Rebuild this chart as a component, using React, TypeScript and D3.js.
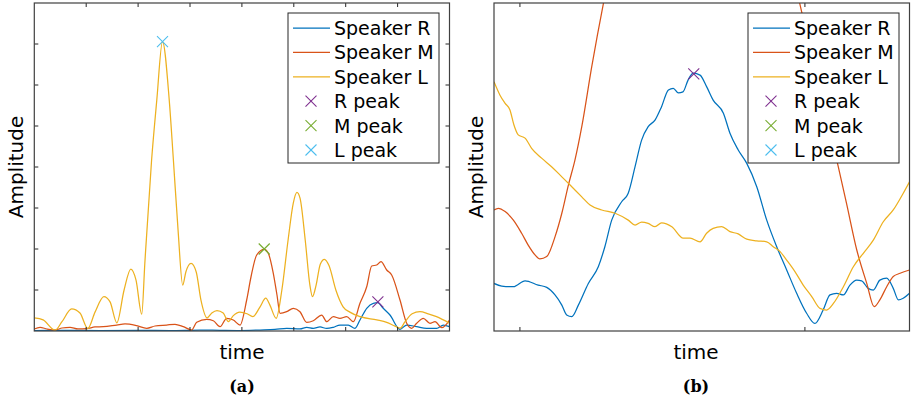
import * as d3 from 'd3'

// ---- panel (a): time in ticks 0..8, amplitude 0..8 ----
const leftSpeakerR: [number, number][] = [
  [0, 0.012], [0.495, 0.017], [1.266, 0.012], [2.037, 0.017], [2.614, 0.012], [3.192, 0.024], [3.578, 0.017],
  [3.964, 0.012], [4.349, 0.024], [4.638, 0.037], [4.863, 0.066], [5.119, 0.049], [5.249, 0.09], [5.376, 0.066],
  [5.505, 0.098], [5.634, 0.061], [5.761, 0.09], [5.89, 0.146], [6.05, 0.146], [6.179, 0.066], [6.275, 0.268],
  [6.405, 0.554], [6.532, 0.676], [6.617, 0.69], [6.724, 0.554], [6.853, 0.39], [7.046, 0.041], [7.175, 0.146],
  [7.368, 0.105], [7.561, 0.066], [7.753, 0.066], [7.881, 0.146], [8.0, 0.105],
]
const leftSpeakerM: [number, number][] = [
  [0, 0.049], [0.11, 0.09], [0.245, 0.049], [0.4, 0.024], [0.534, 0.073], [0.688, 0.09], [0.842, 0.049],
  [1.01, 0.056], [1.169, 0.098], [1.329, 0.105], [1.588, 0.146], [1.748, 0.171], [1.973, 0.129], [2.166, 0.066],
  [2.326, 0.122], [2.551, 0.146], [2.711, 0.163], [2.871, 0.105], [3.033, 0.024], [3.129, 0.212], [3.322, 0.285],
  [3.449, 0.251], [3.578, 0.105], [3.707, 0.31], [3.834, 0.268], [3.964, 0.146], [4.092, 0.756], [4.175, 1.317],
  [4.285, 1.854], [4.432, 1.993], [4.509, 1.895], [4.605, 1.407], [4.676, 0.878], [4.734, 0.432], [4.863, 0.471],
  [4.99, 0.554], [5.119, 0.471], [5.249, 0.212], [5.376, 0.251], [5.538, 0.39], [5.634, 0.227], [5.761, 0.349],
  [5.89, 0.31], [6.019, 0.349], [6.146, 0.227], [6.275, 0.676], [6.405, 1.08], [6.501, 1.585], [6.597, 1.61],
  [6.68, 1.69], [6.79, 1.488], [6.886, 1.366], [7.046, 0.756], [7.175, 0.188], [7.272, 0.066], [7.368, 0.188],
  [7.495, 0.31], [7.624, 0.188], [7.721, 0.227], [7.85, 0.08], [8.0, 0.268],
]
const leftSpeakerL: [number, number][] = [
  [0, 0.32], [0.17, 0.27], [0.4, 0.02], [0.53, 0.22], [0.72, 0.54], [0.88, 0.44], [1.03, 0.06], [1.17, 0.46],
  [1.34, 0.84], [1.46, 0.71], [1.59, 0.2], [1.73, 1.0], [1.86, 1.51], [1.96, 1.24], [2.07, 0.41], [2.13, 1.66],
  [2.26, 4.17], [2.36, 5.63], [2.47, 7.06], [2.6, 5.63], [2.68, 4.17], [2.77, 2.46], [2.86, 1.12], [2.92, 1.44],
  [3.02, 1.65], [3.12, 1.44], [3.21, 0.76], [3.33, 0.32], [3.42, 0.44], [3.52, 0.5], [3.64, 0.44], [3.74, 0.23],
  [3.83, 0.37], [3.96, 0.46], [4.1, 0.42], [4.21, 0.35], [4.35, 0.59], [4.46, 0.8], [4.54, 0.63], [4.66, 0.31],
  [4.77, 1.0], [4.89, 2.22], [4.99, 3.12], [5.06, 3.38], [5.12, 3.24], [5.22, 2.22], [5.31, 1.12], [5.36, 0.84],
  [5.43, 1.12], [5.51, 1.63], [5.59, 1.75], [5.68, 1.59], [5.81, 1.0], [5.95, 0.59], [6.08, 0.46], [6.28, 0.35],
  [6.6, 0.27], [6.79, 0.21], [6.95, 0.12], [7.05, 0.07], [7.14, 0.22], [7.28, 0.42], [7.43, 0.47], [7.59, 0.42],
  [7.75, 0.35], [7.88, 0.27], [8.0, 0.19],
]
const leftPeaks: [number, number][] = [[6.62, 0.71], [4.43, 2.0], [2.47, 7.06]] // R, M, L
const leftXTicks = [1, 2, 3, 4, 5, 6, 7]
const leftYTicks = [1, 2, 3, 4, 5, 6, 7]

// ---- panel (b): zoomed time window, amplitude 0..100 ----
const rightSpeakerR: [number, number][] = [
  [2.909, 14.5], [2.936, 13.7], [2.977, 13.5], [3.018, 15.3], [3.064, 14.0], [3.094, 13.3], [3.123, 11.0],
  [3.147, 7.9], [3.164, 4.9], [3.182, 4.4], [3.205, 7.9], [3.24, 14.5], [3.275, 19.6], [3.298, 25.7],
  [3.322, 33.8], [3.357, 39.4], [3.38, 42.0], [3.404, 50.1], [3.427, 58.2], [3.45, 62.3], [3.474, 64.3],
  [3.497, 68.4], [3.521, 73.5], [3.538, 74.0], [3.556, 72.6], [3.572, 72.9], [3.59, 76.5], [3.608, 78.6],
  [3.632, 78.0], [3.655, 74.5], [3.678, 70.4], [3.714, 66.4], [3.737, 60.3], [3.766, 55.2], [3.796, 51.1],
  [3.831, 44.0], [3.866, 33.8], [3.901, 25.7], [3.936, 18.6], [3.971, 11.5], [4.006, 5.4], [4.035, 2.3],
  [4.064, 6.4], [4.088, 11.0], [4.111, 11.5], [4.135, 11.0], [4.158, 14.0], [4.182, 15.5], [4.199, 15.3],
  [4.222, 13.0], [4.24, 12.5], [4.263, 15.5], [4.287, 16.1], [4.31, 13.0], [4.328, 9.5], [4.345, 10.0],
  [4.367, 11.5],
]
const rightSpeakerM: [number, number][] = [
  [2.909, 36.9], [2.924, 37.4], [2.948, 36.4], [2.977, 33.8], [3.006, 29.8], [3.029, 26.2], [3.053, 23.2],
  [3.07, 22.0], [3.094, 22.7], [3.123, 28.7], [3.147, 35.9], [3.17, 44.5], [3.193, 52.1], [3.217, 62.3],
  [3.252, 80.6], [3.293, 99.9], [3.351, 123.8], [3.632, 161.9], [3.948, 113.1], [3.983, 99.4], [4.046, 76.5],
  [4.117, 50.1], [4.146, 38.9], [4.182, 24.7], [4.217, 14.5], [4.243, 7.4], [4.263, 9.5], [4.287, 13.5],
  [4.31, 16.6], [4.334, 17.6], [4.367, 18.6],
]
const rightSpeakerL: [number, number][] = [
  [2.909, 76.0], [2.93, 71.9], [2.948, 69.4], [2.965, 67.4], [2.979, 62.8], [2.994, 59.8], [3.018, 58.8],
  [3.041, 55.7], [3.076, 52.7], [3.111, 50.1], [3.147, 47.0], [3.176, 44.5], [3.217, 40.9], [3.246, 38.4],
  [3.287, 36.9], [3.334, 35.9], [3.38, 33.8], [3.404, 32.3], [3.427, 33.2], [3.45, 32.8], [3.474, 31.8],
  [3.497, 33.0], [3.533, 31.8], [3.573, 28.3], [3.597, 28.3], [3.632, 27.2], [3.655, 29.8], [3.678, 31.3],
  [3.708, 31.8], [3.737, 30.3], [3.766, 29.6], [3.796, 28.0], [3.831, 27.5], [3.866, 27.2], [3.889, 25.7],
  [3.913, 24.2], [3.936, 21.6], [3.965, 18.1], [3.994, 14.0], [4.024, 10.5], [4.053, 6.9], [4.076, 6.4],
  [4.1, 8.4], [4.135, 13.5], [4.17, 19.6], [4.205, 23.7], [4.24, 27.7], [4.275, 33.3], [4.31, 36.9],
  [4.345, 42.0], [4.367, 45.5],
]
const rightPeaks: [number, number][] = [[3.61, 78.4]] // R only inside the window
const rightXTicks = [3, 4]
const rightYTicks: number[] = []

const seriesNames = ['Speaker R', 'Speaker M', 'Speaker L']
const peakNames = ['R peak', 'M peak', 'L peak']
const lineColors = ['#0072BD', '#D95319', '#EDB120']
const peakColors = ['#7E2F8E', '#77AC30', '#4DBEEE']

const FONT = 'DejaVu Sans, sans-serif'
const W = 911
const H = 401

type PanelProps = {
  id: string
  left: number
  right: number
  xDomain: [number, number]
  yDomain: [number, number]
  xTicks: number[]
  yTicks: number[]
  series: [number, number][][]
  peaks: [number, number][]
  peakColors: string[]
  labelX: number
  caption: string
  captionX: number
}

const TOP = 3
const BOTTOM = 331

function Cross({ x, y, color }: { x: number; y: number; color: string }) {
  const s = 5.5
  return (
    <g stroke={color} strokeWidth={1.1}>
      <line x1={x - s} y1={y - s} x2={x + s} y2={y + s} />
      <line x1={x - s} y1={y + s} x2={x + s} y2={y - s} />
    </g>
  )
}

function Panel(p: PanelProps) {
  const x = d3.scaleLinear().domain(p.xDomain).range([p.left, p.right])
  const y = d3.scaleLinear().domain(p.yDomain).range([BOTTOM, TOP])
  const line = d3.line<[number, number]>()
    .x(d => x(d[0]))
    .y(d => y(d[1]))
    .curve(d3.curveMonotoneX)
  const tl = 4
  // legend
  const lgLeft = p.right - 161.5
  const lgTop = 13
  const rowY = (i: number) => lgTop + 15 + i * 24.4
  return (
    <g>
      <defs>
        <clipPath id={`clip-${p.id}`}>
          <rect x={p.left} y={TOP} width={p.right - p.left} height={BOTTOM - TOP} />
        </clipPath>
      </defs>
      <rect x={p.left} y={TOP} width={p.right - p.left} height={BOTTOM - TOP} fill="white" />
      <g clipPath={`url(#clip-${p.id})`}>
        {p.series.map((s, i) => (
          <path key={i} d={line(s) || ''} fill="none" stroke={lineColors[i]} strokeWidth={1.25} />
        ))}
      </g>
      {p.peaks.map((pk, i) => (
        <Cross key={i} x={x(pk[0])} y={y(pk[1])} color={p.peakColors[i]} />
      ))}
      {/* ticks, inward on all four sides */}
      <g stroke="#262626" strokeWidth={1}>
        {p.xTicks.map(t => (
          <g key={'x' + t}>
            <line x1={x(t)} x2={x(t)} y1={BOTTOM} y2={BOTTOM - tl} />
            <line x1={x(t)} x2={x(t)} y1={TOP} y2={TOP + tl} />
          </g>
        ))}
        {p.yTicks.map(t => (
          <g key={'y' + t}>
            <line x1={p.left} x2={p.left + tl} y1={y(t)} y2={y(t)} />
            <line x1={p.right} x2={p.right - tl} y1={y(t)} y2={y(t)} />
          </g>
        ))}
      </g>
      <rect x={p.left} y={TOP} width={p.right - p.left} height={BOTTOM - TOP} fill="none" stroke="#404040" strokeWidth={1.2} />
      {/* legend */}
      <rect x={lgLeft} y={lgTop} width={151} height={150} fill="white" stroke="#262626" strokeWidth={1} />
      {seriesNames.map((n, i) => (
        <g key={n}>
          <line x1={lgLeft + 5} x2={lgLeft + 42} y1={rowY(i)} y2={rowY(i)} stroke={lineColors[i]} strokeWidth={1.25} />
          <text x={lgLeft + 46} y={rowY(i) + 7} fontFamily={FONT} fontSize={19} fill="#000">{n}</text>
        </g>
      ))}
      {peakNames.map((n, i) => (
        <g key={n}>
          <Cross x={lgLeft + 23} y={rowY(i + 3)} color={peakColors[i]} />
          <text x={lgLeft + 46} y={rowY(i + 3) + 7} fontFamily={FONT} fontSize={19} fill="#000">{n}</text>
        </g>
      ))}
      {/* axis labels */}
      <text
        transform={`translate(${p.left - 11.5},${(TOP + BOTTOM) / 2}) rotate(-90)`}
        textAnchor="middle" fontFamily={FONT} fontSize={20} fill="#000"
      >Amplitude</text>
      <text x={p.labelX} y={359} textAnchor="middle" fontFamily={FONT} fontSize={20} fill="#000">time</text>
      <text x={p.captionX} y={392} textAnchor="middle" fontFamily="DejaVu Serif, serif" fontWeight="bold" fontSize={16} fill="#000">{p.caption}</text>
    </g>
  )
}

export default function App() {
  return (
    <svg width={W} height={H} style={{ position: 'absolute', left: 0, top: 0, background: 'white' }}>
      <Panel
        id="a" left={34.3} right={449.5}
        xDomain={[0, 8]} yDomain={[0, 8]}
        xTicks={leftXTicks} yTicks={leftYTicks}
        series={[leftSpeakerR, leftSpeakerM, leftSpeakerL]}
        peaks={leftPeaks} peakColors={peakColors}
        labelX={242} caption="(a)" captionX={242}
      />
      <Panel
        id="b" left={494} right={909.5}
        xDomain={[2.909, 4.367]} yDomain={[0, 100]}
        xTicks={rightXTicks} yTicks={rightYTicks}
        series={[rightSpeakerR, rightSpeakerM, rightSpeakerL]}
        peaks={rightPeaks} peakColors={[peakColors[0]]}
        labelX={696} caption="(b)" captionX={696}
      />
    </svg>
  )
}
